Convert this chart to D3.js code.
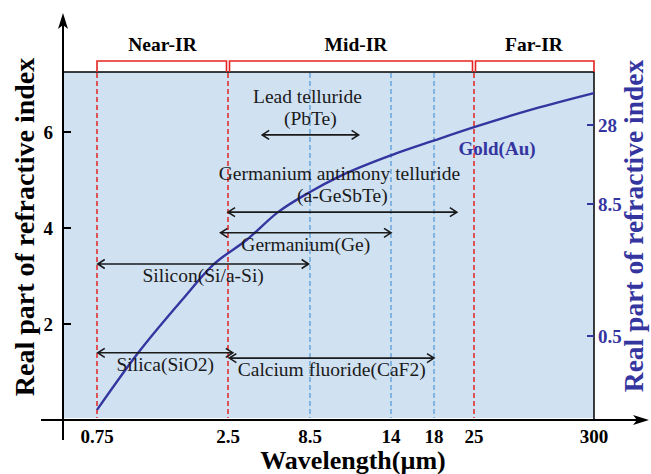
<!DOCTYPE html>
<html>
<head>
<meta charset="utf-8">
<title>ir materials</title>
<script src="https://d3js.org/d3.v7.min.js"></script>
<style>
  body { margin: 0; background: white; }
</style>
</head>
<body>
<script type="text/javascript">
// data
var xTicks = [0.75, 2.5, 8.5, 14, 18, 25, 300];          // wavelength ticks (um)
var yTicks = [2, 4, 6];                                   // left axis ticks
var rightTicks = [0.5, 8.5, 28];                          // right axis ticks (gold)
var redLines = [0.75, 2.5, 25];                           // band borders
var blueLines = [8.5, 14, 18];
var bands = [["Near-IR", 0.75, 2.5], ["Mid-IR", 2.5, 25], ["Far-IR", 25, 300]];

// gold curve
var goldWl = [0.75, 1.3, 1.885, 2.3, 3.9, 6.16, 8.5, 10.54, 14.07, 18.2, 25.2, 162.5, 300];
var goldN  = [0.21, 1.40, 2.50, 3.23, 3.76, 4.33, 4.75, 5.08, 5.52, 5.83, 6.10, 6.48, 6.81];

// material transparency windows: name lines, from, to
var matNames = [["Lead telluride", "(PbTe)"],
                ["Germanium antimony telluride", "(a-GeSbTe)"],
                ["Germanium(Ge)"],
                ["Silicon(Si/a-Si)"],
                ["Silica(SiO2)"],
                ["Calcium fluoride(CaF2)"]];
var matFrom = [5, 2.5, 2.4, 0.76, 0.76, 2.6];
var matTo   = [11.8, 22, 14, 8.4, 2.85, 18];

// layout of the annotations (arrow row on left axis units, label side)
var matRow  = [5.94, 4.33, 3.9, 3.25, 1.40, 1.29];
var matSide = ["above", "above", "below", "below", "below", "below"];

var W = 651, H = 474;
var plot = {left: 63, right: 594, top: 72, bottom: 420};
var red = "#e52421", blue = "#5b9bd5", gold = "#3535a0";

var svg = d3.select("body").append("svg")
            .attr("width", W)
            .attr("height", H);

// scales: schematic wavelength axis (piecewise), linear left axis
var x = d3.scaleLinear()
          .domain(xTicks)
          .range([97, 228, 310, 391, 434, 474, plot.right]);
var y = d3.scaleLinear()
          .domain([0, 7.25])
          .range([plot.bottom, plot.top]);
var yR = d3.scaleLinear()
           .domain(rightTicks)
           .range([336, 204, 125]);

// background
svg.append("rect")
   .attr("x", plot.left)
   .attr("y", plot.top)
   .attr("width", plot.right - plot.left)
   .attr("height", plot.bottom - plot.top - 2)
   .attr("fill", "#d0e1f2");

// top and right borders
svg.append("path")
   .attr("d", "M" + plot.left + "," + plot.top + "H" + plot.right + "V" + plot.bottom)
   .attr("fill", "none")
   .attr("stroke", "black")
   .attr("stroke-width", 1.5);

// dashed separators
svg.append("g").selectAll("line")
   .data(blueLines).enter().append("line")
   .attr("x1", function(d){ return x(d); })
   .attr("x2", function(d){ return x(d); })
   .attr("y1", plot.top + 1)
   .attr("y2", plot.bottom - 2)
   .attr("stroke", blue)
   .attr("stroke-width", 1.3)
   .attr("stroke-dasharray", "5,3");

svg.append("g").selectAll("line")
   .data(redLines).enter().append("line")
   .attr("x1", function(d){ return x(d); })
   .attr("x2", function(d){ return x(d); })
   .attr("y1", plot.top + 1)
   .attr("y2", plot.bottom - 2)
   .attr("stroke", red)
   .attr("stroke-width", 1.5)
   .attr("stroke-dasharray", "5,3");

// band brackets and titles
var bandG = svg.append("g");
bandG.selectAll("path")
   .data(bands).enter().append("path")
   .attr("d", function(d, i){
       var a = x(d[1]) + (i > 0 ? 1.5 : 0);
       var b = x(d[2]) - (i < bands.length - 1 ? 1.5 : 0);
       return "M" + a + "," + plot.top + "V61H" + b + "V" + plot.top;
   })
   .attr("fill", "none")
   .attr("stroke", red)
   .attr("stroke-width", 1.6);

bandG.selectAll("text")
   .data(bands).enter().append("text")
   .attr("x", function(d, i){ return (x(d[1]) + x(d[2])) / 2 + (i == 1 ? 5 : 0); })
   .attr("y", 51)
   .attr("text-anchor", "middle")
   .attr("font-weight", "bold")
   .attr("font-size", 19.5)
   .text(function(d){ return d[0]; });

// gold curve
var line = d3.line()
             .x(function(d){ return x(d); })
             .y(function(d, i){ return y(goldN[i]); })
             .curve(d3.curveMonotoneX);

svg.append("path")
   .attr("d", line(goldWl))
   .attr("fill", "none")
   .attr("stroke", gold)
   .attr("stroke-width", 2.4);

svg.append("text")
   .attr("x", x(25) + 23)
   .attr("y", 155)
   .attr("text-anchor", "middle")
   .attr("font-weight", "bold")
   .attr("font-size", 19)
   .attr("fill", gold)
   .text("Gold(Au)");

// double arrows
function arrowPath(x1, x2, yy){
    var h = 7, w = 4.5;
    return "M" + x1 + "," + yy + "H" + x2 +
           "M" + (x1 + h) + "," + (yy - w) + "L" + x1 + "," + yy + "L" + (x1 + h) + "," + (yy + w) +
           "M" + (x2 - h) + "," + (yy - w) + "L" + x2 + "," + yy + "L" + (x2 - h) + "," + (yy + w);
}

var matG = svg.append("g");
matNames.forEach(function(names, i){
    var x1 = x(matFrom[i]), x2 = x(matTo[i]), yy = y(matRow[i]);
    var cx = (x1 + x2) / 2;

    matG.append("path")
        .attr("d", arrowPath(x1, x2, yy))
        .attr("fill", "none")
        .attr("stroke", "#1a1a1a")
        .attr("stroke-width", 1.6);

    names.forEach(function(t, j){
        var ty;
        if(matSide[i] == "above")
            ty = yy - (names.length - j) * 22 + 12;
        else
            ty = yy + 18;
        matG.append("text")
            .attr("x", cx - (names.length > 1 && j == 0 ? 3 : 0))
            .attr("y", ty)
            .attr("text-anchor", "middle")
            .attr("font-size", 19.5)
            .attr("fill", "#1a1a1a")
            .text(t);
    });
});

// left axis with arrow
svg.append("line")
   .attr("x1", plot.left).attr("x2", plot.left)
   .attr("y1", 440).attr("y2", 22)
   .attr("stroke", "black").attr("stroke-width", 2);
svg.append("path")
   .attr("d", "M" + plot.left + ",13L" + (plot.left - 5) + ",29L" + plot.left + ",25L" + (plot.left + 5) + ",29Z")
   .attr("fill", "black");

// bottom axis with arrow
svg.append("line")
   .attr("x1", 41).attr("x2", 640)
   .attr("y1", plot.bottom).attr("y2", plot.bottom)
   .attr("stroke", "black").attr("stroke-width", 2);
svg.append("path")
   .attr("d", "M649," + plot.bottom + "L633," + (plot.bottom - 5) + "L637," + plot.bottom + "L633," + (plot.bottom + 5) + "Z")
   .attr("fill", "black");

// left ticks
var lt = svg.append("g").selectAll("g")
   .data(yTicks).enter().append("g")
   .attr("transform", function(d){ return "translate(" + plot.left + "," + y(d) + ")"; });
lt.append("line").attr("x1", 0).attr("x2", 8)
  .attr("stroke", "black").attr("stroke-width", 2);
lt.append("text")
  .attr("x", -10).attr("dy", 7)
  .attr("text-anchor", "end")
  .attr("font-weight", "bold").attr("font-size", 19)
  .text(function(d){ return d; });

// right ticks
var rt = svg.append("g").selectAll("g")
   .data(rightTicks).enter().append("g")
   .attr("transform", function(d){ return "translate(" + plot.right + "," + yR(d) + ")"; });
rt.append("line").attr("x1", 0).attr("x2", -7)
  .attr("stroke", gold).attr("stroke-width", 2);
rt.append("text")
  .attr("x", 4).attr("dy", 7)
  .attr("font-weight", "bold").attr("font-size", 19)
  .attr("fill", gold)
  .text(function(d){ return d; });

// x tick labels
svg.append("g").selectAll("text")
   .data(xTicks).enter().append("text")
   .attr("x", function(d){ return x(d); })
   .attr("y", 443)
   .attr("text-anchor", "middle")
   .attr("font-weight", "bold").attr("font-size", 19)
   .text(function(d){ return d; });

// axis titles
svg.append("text")
   .attr("x", 353).attr("y", 469)
   .attr("text-anchor", "middle")
   .attr("font-weight", "bold").attr("font-size", 26)
   .text("Wavelength(\u00b5m)");

svg.append("text")
   .attr("transform", "translate(34,227) rotate(-90)")
   .attr("text-anchor", "middle")
   .attr("font-weight", "bold").attr("font-size", 28)
   .text("Real part of refractive index");

svg.append("text")
   .attr("transform", "translate(643,226) rotate(-90)")
   .attr("text-anchor", "middle")
   .attr("font-weight", "bold").attr("font-size", 27.5)
   .attr("fill", gold)
   .text("Real part of refractive index");

// serif font on every label
svg.selectAll("text").attr("font-family", "Liberation Serif");
</script>
</body>
</html>
